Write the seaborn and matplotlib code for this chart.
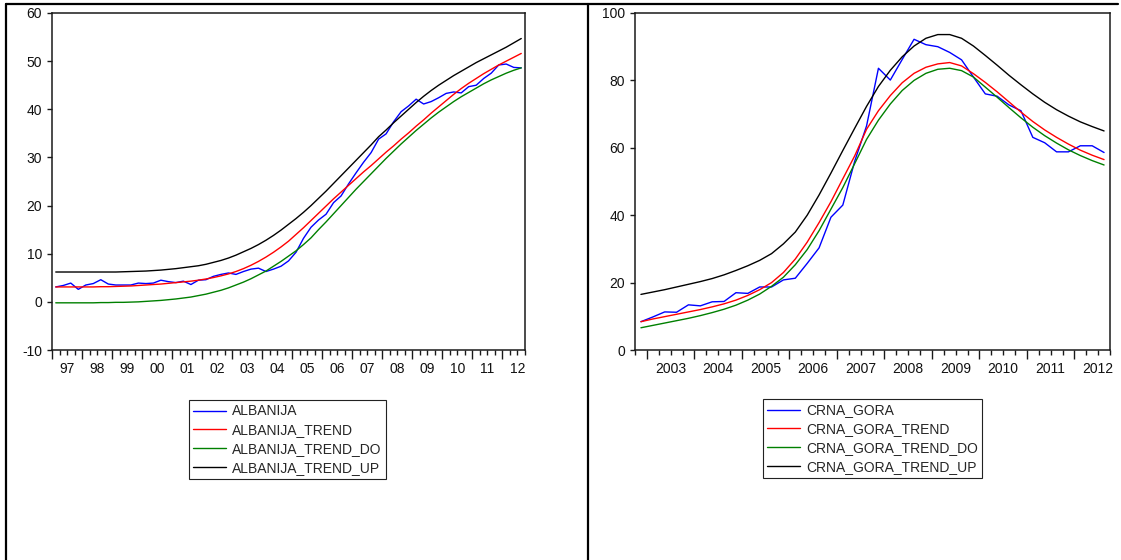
import matplotlib
matplotlib.use("Agg")
import matplotlib.pyplot as plt
from matplotlib.lines import Line2D
from matplotlib.ticker import FixedLocator, FuncFormatter, NullFormatter
import numpy as np
import pandas as pd
import seaborn as sns

# ---------------- data (quarterly) ----------------
# Left panel: 1997Q1 .. 2012Q3
left_year_labels = ["97", "98", "99", "00", "01", "02", "03", "04",
                    "05", "06", "07", "08", "09", "10", "11", "12"]
albanija = [3.1, 3.4, 3.9, 2.6, 3.5, 3.8, 4.6, 3.7, 3.5, 3.5,
            3.5, 3.9, 3.8, 3.9, 4.5, 4.2, 4.0, 4.3, 3.6, 4.5,
            4.6, 5.3, 5.7, 6.0, 5.7, 6.3, 6.8, 7.0, 6.3, 6.8,
            7.4, 8.5, 10.3, 13.2, 15.5, 17.0, 18.2, 20.6, 22.0, 24.5,
            26.8, 29.0, 31.0, 33.8, 34.9, 37.4, 39.5, 40.7, 42.1, 41.1,
            41.6, 42.4, 43.3, 43.6, 43.4, 44.7, 45.0, 46.4, 47.5, 49.2,
            49.4, 48.7, 48.6]
albanija_trend = [3.1, 3.1, 3.1, 3.1, 3.1, 3.1, 3.15, 3.15, 3.2, 3.25, 3.3,
                  3.4, 3.5, 3.6, 3.7, 3.85, 4.0, 4.15, 4.3, 4.5, 4.75,
                  5.05, 5.4, 5.8, 6.3, 6.9, 7.6, 8.4, 9.3, 10.3,
                  11.4, 12.6, 14.0, 15.4, 16.9, 18.4, 19.9, 21.4,
                  22.8, 24.2, 25.6, 27.0, 28.3, 29.7, 31.1, 32.4, 33.8, 35.1,
                  36.5, 37.8, 39.2, 40.5, 41.8, 43.1, 44.3, 45.4, 46.4, 47.4,
                  48.3, 49.2, 50.0, 50.8, 51.6]
albanija_trend_do = [-0.2, -0.2, -0.2, -0.2, -0.2, -0.2, -0.15, -0.15, -0.1, -0.1, -0.05,
                     0.0, 0.1, 0.2, 0.3, 0.45, 0.6, 0.8, 1.0, 1.3, 1.6,
                     2.0, 2.4, 2.9, 3.5, 4.1, 4.8, 5.6, 6.4, 7.4, 8.4, 9.5, 10.6, 11.9, 13.3,
                     15.0, 16.6, 18.3, 20.0, 21.7, 23.4, 25.0, 26.6, 28.2, 29.8,
                     31.3, 32.8, 34.2, 35.6, 36.9, 38.2, 39.4, 40.5, 41.6, 42.6,
                     43.5, 44.4, 45.3, 46.1, 46.8, 47.5, 48.1, 48.6]
albanija_trend_up = [6.2, 6.2, 6.2, 6.2, 6.2, 6.2, 6.2, 6.2, 6.2,
                     6.25, 6.3, 6.35, 6.4, 6.5, 6.6, 6.75, 6.9, 7.1, 7.3, 7.5,
                     7.8, 8.2, 8.6, 9.1, 9.7, 10.4, 11.1, 11.9, 12.8, 13.8, 14.9,
                     16.1, 17.3, 18.6, 20.0, 21.5, 23.0, 24.6, 26.2, 27.8, 29.4, 31.0, 32.6,
                     34.3, 35.7, 37.2, 38.6, 40.0, 41.4, 42.7, 43.9, 45.0, 46.0,
                     47.0, 47.9, 48.8, 49.7, 50.5, 51.3, 52.1, 52.9, 53.8, 54.7]

# Right panel: 2002Q4 .. 2012Q3
right_year_labels = ["2003", "2004", "2005", "2006", "2007",
                     "2008", "2009", "2010", "2011", "2012"]
crna_gora = [8.4, 9.8, 11.3, 11.2, 13.4, 13.1, 14.3, 14.4, 17.0, 16.8,
             18.7, 18.7, 20.8, 21.3, 25.7, 30.3, 39.4, 43.0, 56.0, 66.5,
             83.6, 80.1, 86.2, 92.2, 90.6, 90.0, 88.3, 86.1, 81.0, 76.0,
             75.3, 72.7, 71.0, 63.1, 61.5, 58.8, 58.8, 60.6, 60.6, 58.6]
crna_gora_trend = [8.4, 9.2, 9.9, 10.6, 11.3, 12.0, 12.8, 13.7, 14.8, 16.2,
                   17.9, 20.0, 23.0, 27.0, 32.0, 37.8, 44.0, 50.8, 57.6, 65.5,
                   71.0, 75.5, 79.3, 82.1, 83.9, 84.9, 85.3, 84.3, 82.0, 79.4,
                   76.6, 73.6, 70.6, 67.8, 65.3, 63.1, 61.1, 59.3, 57.8, 56.5]
crna_gora_trend_do = [6.6, 7.3, 8.0, 8.7, 9.4, 10.2, 11.1, 12.1, 13.3, 14.8,
                      16.6, 18.9, 21.6, 25.3, 29.8, 35.4, 41.8, 48.2, 55.3, 62.5,
                      68.2, 73.0, 77.0, 80.0, 82.1, 83.3, 83.6, 82.9, 81.0, 78.0,
                      75.0, 71.9, 68.9, 66.1, 63.6, 61.4, 59.4, 57.7, 56.2, 54.9]
crna_gora_trend_up = [16.5, 17.2, 17.9, 18.7, 19.5, 20.3, 21.2, 22.3, 23.6, 25.0,
                      26.6, 28.6, 31.5, 35.0, 40.0, 46.0, 52.5, 59.2, 65.8, 72.3,
                      78.2, 83.0, 87.0, 90.2, 92.5, 93.6, 93.6, 92.5, 90.2, 87.4,
                      84.5, 81.5, 78.7, 76.0, 73.5, 71.3, 69.4, 67.7, 66.3, 65.0]

left_names = ["ALBANIJA", "ALBANIJA_TREND", "ALBANIJA_TREND_DO", "ALBANIJA_TREND_UP"]
right_names = ["CRNA_GORA", "CRNA_GORA_TREND", "CRNA_GORA_TREND_DO", "CRNA_GORA_TREND_UP"]
series_colors = ["#0000ff", "#ff0000", "#008000", "#000000"]

# ---------------- style ----------------
sns.set_style("ticks")
plt.rcParams["font.family"] = ["Liberation Sans", "DejaVu Sans"]
FS = 10.0
SPINE = "#1a1a1a"

W, H = 1121, 560
fig = plt.figure(figsize=(W / 100, H / 100), dpi=100)
fig.patch.set_facecolor("white")


def px_rect(x0, y0, x1, y1):
    return [x0 / W, 1 - y1 / H, (x1 - x0) / W, (y1 - y0) / H]


ax1 = fig.add_axes(px_rect(52, 13, 525, 350))
ax2 = fig.add_axes(px_rect(635, 13, 1110, 350))


def draw_panel(ax, data, names, first_year_start, year_labels, ylim, yticks, legend_xy):
    n = len(data[0])
    t = np.arange(n) + 0.5
    frames = []
    for name, vals in zip(names, data):
        frames.append(pd.DataFrame({"t": t, "value": vals, "series": name}))
    df = pd.concat(frames, ignore_index=True)
    sns.lineplot(data=df, x="t", y="value", hue="series", hue_order=names,
                 palette=dict(zip(names, series_colors)), ax=ax,
                 linewidth=1.0, legend=False, estimator=None, sort=False)

    ax.set_xlim(0, n)
    ax.set_ylim(*ylim)
    ax.set_yticks(yticks)
    ax.set_xlabel("")
    ax.set_ylabel("")

    # x ticks: long ticks at year starts, short ticks every quarter,
    # year labels centred in the year (at the start of Q3)
    year_starts = list(range(first_year_start, n + 1, 4))
    quarter_locs = [q for q in range(0, n + 1) if (q - first_year_start) % 4 != 0]
    label_map = {}
    for k, lab in enumerate(year_labels):
        label_map[first_year_start + 4 * k + 2] = lab
    ax.xaxis.set_major_locator(FixedLocator(year_starts))
    ax.xaxis.set_major_formatter(NullFormatter())
    ax.xaxis.set_minor_locator(FixedLocator(quarter_locs))
    ax.xaxis.set_minor_formatter(
        FuncFormatter(lambda x, pos: label_map.get(int(round(x)), "")))

    ax.tick_params(axis="x", which="major", length=6.5, width=1.0,
                   direction="out", color=SPINE)
    ax.tick_params(axis="x", which="minor", length=3.6, width=1.0,
                   direction="out", color=SPINE, pad=5.2,
                   labelsize=FS, labelcolor="#111111")
    ax.tick_params(axis="y", which="major", length=3.8, width=1.0,
                   direction="out", color=SPINE, pad=3.4,
                   labelsize=FS, labelcolor="#111111")
    ax.set_yticklabels([str(v) for v in yticks])

    for sp in ax.spines.values():
        sp.set_visible(True)
        sp.set_color(SPINE)
        sp.set_linewidth(1.1)
    ax.grid(False)
    ax.set_facecolor("white")

    handles = [Line2D([], [], color=c, linewidth=1.0) for c in series_colors]
    leg = ax.legend(handles, names, loc="upper left",
                    bbox_to_anchor=(legend_xy[0] / W, 1 - legend_xy[1] / H),
                    bbox_transform=fig.transFigure, frameon=True, fancybox=False,
                    shadow=False, framealpha=1, edgecolor="#222222",
                    fontsize=FS, borderpad=0.32, labelspacing=0.34,
                    handlelength=2.35, handletextpad=0.42, borderaxespad=0)
    leg.get_frame().set_linewidth(0.8)


draw_panel(ax1, [albanija, albanija_trend, albanija_trend_do, albanija_trend_up],
           left_names, 0, left_year_labels, (-10, 60),
           [-10, 0, 10, 20, 30, 40, 50, 60], (189, 400))
draw_panel(ax2, [crna_gora, crna_gora_trend, crna_gora_trend_do, crna_gora_trend_up],
           right_names, 1, right_year_labels, (0, 100),
           [0, 20, 40, 60, 80, 100], (763, 399))

# outer panel frames
frame_kw = dict(color="#000000", linewidth=1.6, transform=fig.transFigure)
fig.add_artist(Line2D([6 / W, 6 / W], [0, 1 - 4 / H], **frame_kw))
fig.add_artist(Line2D([6 / W, 1118 / W], [1 - 4 / H, 1 - 4 / H], **frame_kw))
fig.add_artist(Line2D([588 / W, 588 / W], [0, 1 - 4 / H], **frame_kw))

fig.savefig("out.png", dpi=100, facecolor="white")
